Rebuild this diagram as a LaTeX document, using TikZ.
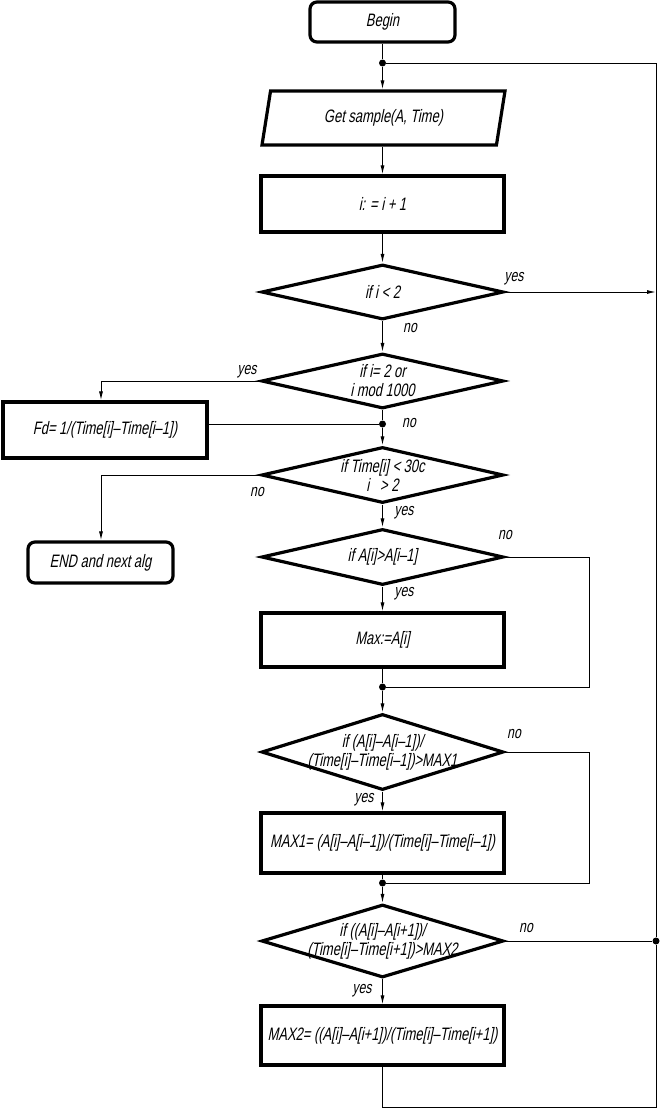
\documentclass[tikz,border=0pt]{standalone}
\usepackage{fontspec}
\setmainfont{Liberation Sans}[FakeSlant=0.2,FakeStretch=0.72]
\usetikzlibrary{shapes.geometric,arrows.meta}
\begin{document}
\tikzset{
  base/.style={draw, line width=3.2pt, inner sep=0pt, font=\fontsize{18}{19}\selectfont, align=center},
  procbox/.style={base, rectangle},
  termbox/.style={base, rectangle, rounded corners=7pt},
  iobox/.style={base, trapezium, trapezium left angle=63, trapezium right angle=117, trapezium stretches body},
  decbox/.style={base, diamond},
  dtext/.style={font=\fontsize{18}{19}\selectfont, align=center, inner sep=0pt},
  lbl/.style={font=\fontsize{17}{18}\selectfont, inner sep=0pt},
  conn/.style={line width=1pt},
  arr/.style={conn, -{Latex[length=9pt,width=4pt]}},
  jdot/.style={circle, fill, inner sep=0pt, minimum size=7pt},
}
\begin{tikzpicture}[x=1pt,y=-1pt]
\useasboundingbox (0,0) rectangle (659,1111);
% main column
\node[termbox, minimum width=145pt, minimum height=40pt] (begin) at (382.5,22) {Begin};
\node[jdot] (j0) at (382.5,63) {};
\node[iobox, minimum width=243pt, minimum height=54pt] (get) at (383.5,118) {Get sample(A, Time)};
\node[procbox, minimum width=243pt, minimum height=56pt] (inc) at (382.5,204) {i: = i + 1};
\node[decbox, minimum width=242pt, minimum height=55pt, label={[dtext]center:if i < 2}] (d1) at (382.5,292) {};
\node[decbox, minimum width=242pt, minimum height=55pt, label={[dtext]center:{if i= 2 or\\ i mod 1000}}] (d2) at (382.5,381) {};
\node[procbox, minimum width=204pt, minimum height=56pt] (fd) at (105,430) {Fd= 1/(Time[i]–Time[i–1])};
\node[jdot] (j1) at (382.5,424) {};
\node[decbox, minimum width=242pt, minimum height=56pt, label={[dtext]center:{if Time[i] < 30c\\ i \ \ > 2}}] (d3) at (382.5,475) {};
\node[termbox, minimum width=145pt, minimum height=41pt] (end) at (100.5,562.5) {END and next alg};
\node[decbox, minimum width=242pt, minimum height=56pt, label={[dtext]center:{if A[i]>A[i–1]}}] (d4) at (382.5,557) {};
\node[procbox, minimum width=243pt, minimum height=54pt] (max) at (382.5,640) {Max:=A[i]};
\node[jdot] (j2) at (382.5,687) {};
\node[decbox, minimum width=242pt, minimum height=76pt, label={[dtext]center:{if (A[i]–A[i–1])/\\(Time[i]–Time[i–1])>MAX1}}] (d5) at (382.5,752) {};
\node[procbox, minimum width=243pt, minimum height=60pt] (max1) at (382.5,843) {MAX1= (A[i]–A[i–1])/(Time[i]–Time[i–1])};
\node[jdot] (j3) at (382.5,883) {};
\node[decbox, minimum width=242pt, minimum height=73pt, label={[dtext]center:{if ((A[i]–A[i+1])/\\(Time[i]–Time[i+1])>MAX2}}] (d6) at (382.5,941) {};
\node[procbox, minimum width=243pt, minimum height=59pt] (max2) at (382.5,1035.5) {MAX2= ((A[i]–A[i+1])/(Time[i]–Time[i+1])};
\node[jdot] (j4) at (656,941) {};
% helper coordinates
\coordinate (lx) at (101,0);
\coordinate (rx) at (589,0);
\coordinate (bl) at (382.5,1107);
% connectors
\draw[conn] (begin) -- (j0);
\draw[arr] (j0) -- (j0 |- get.north);
\draw[arr] (inc.north |- get.south) -- (inc.north);
\draw[arr] (inc) -- (d1);
\draw[arr] (d1) -- (d2);
\draw[arr] (d1.east) -- (d1.east -| j4);
\draw[arr] (d2.west) -| (lx |- fd.north);
\draw[conn] (d2) -- (j1);
\draw[conn] (j1) -- (j1 -| fd.east);
\draw[arr] (j1) -- (d3);
\draw[arr] (d3.west) -| (lx |- end.north);
\draw[arr] (d3) -- (d4);
\draw[arr] (d4) -- (max);
\draw[conn] (d4.east) -| (j2 -| rx) -- (j2);
\draw[conn] (max) -- (j2);
\draw[arr] (j2) -- (d5);
\draw[arr] (d5) -- (max1);
\draw[conn] (d5.east) -| (j3 -| rx) -- (j3);
\draw[conn] (max1) -- (j3);
\draw[arr] (j3) -- (d6);
\draw[arr] (d6) -- (max2);
\draw[conn] (d6.east) -- (j4);
\draw[conn] (max2.south) -- (bl) -- (bl -| j4) -- (j4) -- (j4 |- j0) -- (j0);
% labels
\node[lbl] (yes1) at (514,279) {yes};
\node[lbl] (no1) at (410,328) {no};
\node[lbl] (yes2) at (247,372) {yes};
\node[lbl] (no2) at (409,423) {no};
\node[lbl] (no3) at (257,492) {no};
\node[lbl] (yes3) at (404,513) {yes};
\node[lbl] (no4) at (505,535) {no};
\node[lbl] (yes4) at (404,594) {yes};
\node[lbl] (no5) at (514,734) {no};
\node[lbl] (yes5) at (364,800) {yes};
\node[lbl] (no6) at (526,928) {no};
\node[lbl] (yes6) at (362,991) {yes};
\end{tikzpicture}
\end{document}
